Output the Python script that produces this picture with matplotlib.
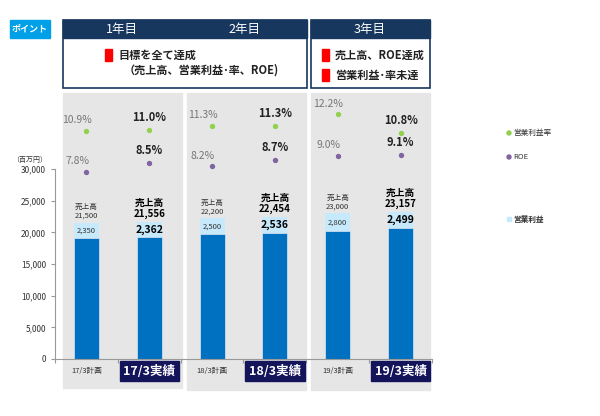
import matplotlib.pyplot as plt
import matplotlib.patches as mpatches
import numpy as np

plt.rcParams["font.family"] = ["Noto Sans CJK JP", "DejaVu Sans"]

categories = ["17/3計画", "17/3実績", "18/3計画", "18/3実績", "19/3計画", "19/3実績"]
is_actual = [False, True, False, True, False, True]
sales = [21500, 21556, 22200, 22454, 23000, 23157]
op_profit = [2350, 2362, 2500, 2536, 2800, 2499]
op_margin = [10.9, 11.0, 11.3, 11.3, 12.2, 10.8]
roe = [7.8, 8.5, 8.2, 8.7, 9.0, 9.1]

W, H = 600, 416
fig = plt.figure(figsize=(6, 4.16), dpi=100)


def fx(px):
    return px / W


def fy(py):
    return 1 - py / H


# gray panels
for x0, x1, y1 in [(63, 182, 388), (187, 306, 390), (311, 430, 390)]:
    fig.patches.append(mpatches.Rectangle((fx(x0), fy(y1)), fx(x1 - x0), (y1 - 93) / H,
                                          transform=fig.transFigure, color="#e6e6e6", zorder=-5))

# header boxes
navy = "#17375e"
for x0, x1 in [(63, 307), (311, 430)]:
    fig.patches.append(mpatches.Rectangle((fx(x0), fy(88)), fx(x1 - x0), 68 / H, transform=fig.transFigure,
                                          facecolor="white", edgecolor=navy, lw=1.2))
    fig.patches.append(mpatches.Rectangle((fx(x0), fy(38)), fx(x1 - x0), 18 / H, transform=fig.transFigure,
                                          facecolor=navy, edgecolor=navy))
for x, t in [(122, "1年目"), (244, "2年目"), (370, "3年目")]:
    fig.text(fx(x), fy(29), t, color="white", fontsize=9, ha="center", va="center")

fig.patches.append(mpatches.Rectangle((fx(10), fy(38)), fx(40), 18 / H, transform=fig.transFigure,
                                      color="#00a0e9"))
fig.text(fx(30), fy(29), "ポイント", color="white", fontsize=6.5, weight="bold", ha="center", va="center")


def red_item(x, y, text):
    fig.patches.append(mpatches.Rectangle((fx(x), fy(y + 6)), fx(7), 12 / H, transform=fig.transFigure,
                                          color="#ff0000"))
    fig.text(fx(x + 13), fy(y), text, fontsize=8, weight="bold", ha="left", va="center", color="#222")


red_item(105, 55, "目標を全て達成")
fig.text(fx(124), fy(70), "（売上高、営業利益･率、ROE)", fontsize=8, weight="bold", ha="left", va="center",
         color="#222")
red_item(322, 55, "売上高、ROE達成")
red_item(322, 75, "営業利益･率未達")

ax = fig.add_axes([fx(55), fy(359), fx(432 - 55), (359 - 100) / H])
ax.set_facecolor("none")
x = np.arange(len(categories))
base = [s - o for s, o in zip(sales, op_profit)]
ax.bar(x, base, 0.4, color="#0070c0", edgecolor="#dce6f2", lw=0.5, zorder=2)
ax.bar(x, op_profit, 0.4, bottom=base, color="#c6e9fb", zorder=2, label="営業利益")
ax.set_xlim(-0.5, 5.5)
ax.set_ylim(0, 40895)
ax.set_yticks(range(0, 30001, 5000))
ax.set_yticklabels([f"{v:,}" for v in range(0, 30001, 5000)], fontsize=6, color="#333")
ax.spines[["top", "right"]].set_visible(False)
ax.spines["left"].set_bounds(0, 30000)
ax.spines["left"].set_color("#999")
ax.spines["bottom"].set_color("#999")
ax.tick_params(axis="y", length=3, color="#999")
ax.set_xticks(np.arange(-0.5, 6, 1))
ax.set_xticklabels([])
ax.tick_params(axis="x", length=3, color="#999")
ax.text(-0.62, 31500, "（百万円）", fontsize=5, ha="right", va="center", color="#333")

for i in range(len(categories)):
    if is_actual[i]:
        ax.text(x[i], sales[i] + 500, f"売上高\n{sales[i]:,}", ha="center", va="bottom", fontsize=7,
                weight="bold", linespacing=1.1)
        ax.text(x[i], base[i] + op_profit[i] / 2, f"{op_profit[i]:,}", ha="center", va="center", fontsize=7.5,
                weight="bold")
        ax.text(x[i], -1900, categories[i], ha="center", va="center", fontsize=9, weight="bold", color="white",
                bbox=dict(boxstyle="square,pad=0.3", fc="#14145a", ec="#14145a"))
    else:
        ax.text(x[i], sales[i] + 500, f"売上高\n{sales[i]:,}", ha="center", va="bottom", fontsize=5.5,
                color="#333", linespacing=1.1)
        ax.text(x[i], base[i] + op_profit[i] / 2, f"{op_profit[i]:,}", ha="center", va="center", fontsize=5.5,
                color="#333")
        ax.text(x[i], -1900, categories[i], ha="center", va="center", fontsize=5.5, color="#333")

ax2 = ax.twinx()
ax2.set_ylim(-(359 - 273) / 13, (273 - 100) / 13)
ax2.axis("off")
ax2.scatter(x, op_margin, s=8, color="#92d050", zorder=3, label="営業利益率")
ax2.scatter(x, roe, s=8, color="#8064a2", zorder=3, label="ROE")
for i in range(len(categories)):
    kw = dict(fontsize=8, weight="bold", color="#222") if is_actual[i] else dict(fontsize=7.5, color="#777")
    ax2.text(x[i] - (0 if is_actual[i] else 0.15), op_margin[i] + 0.45, f"{op_margin[i]:.1f}%", ha="center",
             va="bottom", **kw)
    ax2.text(x[i] - (0 if is_actual[i] else 0.15), roe[i] + 0.45, f"{roe[i]:.1f}%", ha="center",
             va="bottom", **kw)

# legend
fig.patches.append(mpatches.Ellipse((fx(509), fy(133)), 4 / W, 4 / H, transform=fig.transFigure, color="#92d050"))
fig.text(fx(513), fy(133), "営業利益率", fontsize=5.5, va="center", color="#333")
fig.patches.append(mpatches.Ellipse((fx(509), fy(157)), 4 / W, 4 / H, transform=fig.transFigure, color="#8064a2"))
fig.text(fx(513), fy(157), "ROE", fontsize=5.5, va="center", color="#333")
fig.patches.append(mpatches.Rectangle((fx(507), fy(221)), fx(4), 4 / H, transform=fig.transFigure,
                                      color="#c6e9fb"))
fig.text(fx(513), fy(219), "営業利益", fontsize=5.5, weight="bold", va="center", color="#333")

fig.savefig("out.png", dpi=100)
